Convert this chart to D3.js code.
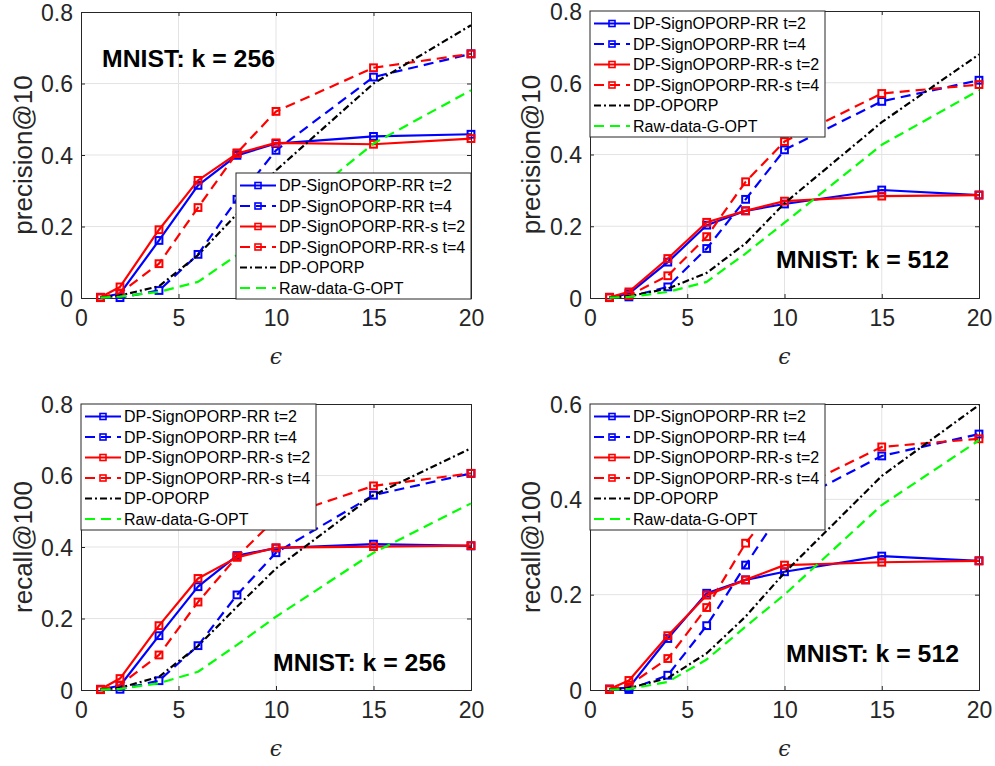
<!DOCTYPE html>
<html><head><meta charset="utf-8">
<script src="https://cdn.jsdelivr.net/npm/d3@7"></script>
<style>body{margin:0;background:#fff}svg{display:block}</style>
</head><body>
<script>
// ---------- data ----------
const epsilons = [1, 2, 4, 6, 8, 10, 15, 20];
const seriesNames = ["DP-SignOPORP-RR t=2", "DP-SignOPORP-RR t=4", "DP-SignOPORP-RR-s t=2", "DP-SignOPORP-RR-s t=4", "DP-OPORP", "Raw-data-G-OPT"];
const xTicks = [0, 5, 10, 15, 20];
const yTicksPrecision = [0, 0.2, 0.4, 0.6, 0.8];
const yTicksRecall512 = [0, 0.2, 0.4, 0.6];

// precision@10, k=256
const p256_rr2  = [0.002, 0.012, 0.161, 0.315, 0.399, 0.432, 0.452, 0.458];
const p256_rr4  = [0.001, 0.001, 0.021, 0.122, 0.276, 0.413, 0.618, 0.683];
const p256_rrs2 = [0.002, 0.031, 0.191, 0.329, 0.404, 0.434, 0.430, 0.446];
const p256_rrs4 = [0.001, 0.014, 0.096, 0.253, 0.406, 0.522, 0.644, 0.683];
const p256_op   = [0.001, 0.007, 0.033, 0.120, 0.235, 0.357, 0.600, 0.763];
const p256_raw  = [0.001, 0.004, 0.017, 0.045, 0.120, 0.210, 0.432, 0.581];
// precision@10, k=512
const p512_rr2  = [0.002, 0.012, 0.100, 0.203, 0.243, 0.262, 0.301, 0.287];
const p512_rr4  = [0.001, 0.003, 0.031, 0.138, 0.275, 0.413, 0.548, 0.607];
const p512_rrs2 = [0.002, 0.017, 0.110, 0.211, 0.243, 0.270, 0.284, 0.287];
const p512_rrs4 = [0.001, 0.007, 0.062, 0.171, 0.324, 0.436, 0.570, 0.595];
const p512_op   = [0.001, 0.005, 0.026, 0.070, 0.152, 0.264, 0.490, 0.679];
const p512_raw  = [0.001, 0.003, 0.017, 0.045, 0.124, 0.210, 0.427, 0.579];
// recall@100, k=256
const r256_rr2  = [0.002, 0.012, 0.152, 0.289, 0.376, 0.397, 0.408, 0.403];
const r256_rr4  = [0.001, 0.002, 0.026, 0.124, 0.266, 0.384, 0.545, 0.606];
const r256_rrs2 = [0.002, 0.032, 0.180, 0.312, 0.371, 0.398, 0.401, 0.404];
const r256_rrs4 = [0.001, 0.014, 0.098, 0.246, 0.373, 0.480, 0.571, 0.606];
const r256_op   = [0.001, 0.006, 0.037, 0.123, 0.233, 0.340, 0.545, 0.676];
const r256_raw  = [0.001, 0.003, 0.019, 0.051, 0.126, 0.205, 0.384, 0.522];
// recall@100, k=512
const r512_rr2  = [0.002, 0.005, 0.108, 0.203, 0.231, 0.248, 0.281, 0.271];
const r512_rr4  = [0.001, 0.001, 0.031, 0.135, 0.262, 0.385, 0.491, 0.537];
const r512_rrs2 = [0.002, 0.020, 0.114, 0.199, 0.231, 0.262, 0.268, 0.271];
const r512_rrs4 = [0.001, 0.010, 0.066, 0.173, 0.308, 0.410, 0.510, 0.527];
const r512_op   = [0.001, 0.004, 0.025, 0.077, 0.154, 0.246, 0.449, 0.598];
const r512_raw  = [0.001, 0.002, 0.017, 0.064, 0.133, 0.200, 0.388, 0.524];

// ---------- styles ----------
const styles = [
  {color: "#0000ff", dash: null, marker: true},
  {color: "#0000ff", dash: "10,6", marker: true},
  {color: "#ff0000", dash: null, marker: true},
  {color: "#ff0000", dash: "10,6", marker: true},
  {color: "#000000", dash: "7,3,2,3", marker: false},
  {color: "#00ff00", dash: "10,6", marker: false}
];

const panels = [
  {left: 81, right: 471, top: 12, bottom: 298, ymax: 0.8, yTicks: yTicksPrecision, ylabel: "precision@10",
   title: "MNIST: k = 256", tx: 21, ty: 55, legend: {x: 236, y: 173}, ylabX: 23,
   series: [p256_rr2, p256_rr4, p256_rrs2, p256_rrs4, p256_op, p256_raw]},
  {left: 590, right: 979, top: 11, bottom: 298, ymax: 0.8, yTicks: yTicksPrecision, ylabel: "precision@10",
   title: "MNIST: k = 512", tx: 186, ty: 257, legend: {x: 590, y: 11}, ylabX: 531,
   series: [p512_rr2, p512_rr4, p512_rrs2, p512_rrs4, p512_op, p512_raw]},
  {left: 81, right: 471, top: 404, bottom: 690, ymax: 0.8, yTicks: yTicksPrecision, ylabel: "recall@100",
   title: "MNIST: k = 256", tx: 192, ty: 267, legend: {x: 81, y: 404}, ylabX: 23,
   series: [r256_rr2, r256_rr4, r256_rrs2, r256_rrs4, r256_op, r256_raw]},
  {left: 590, right: 979, top: 404, bottom: 690, ymax: 0.6, yTicks: yTicksRecall512, ylabel: "recall@100",
   title: "MNIST: k = 512", tx: 196, ty: 258, legend: {x: 590, y: 404}, ylabX: 531,
   series: [r512_rr2, r512_rr4, r512_rrs2, r512_rrs4, r512_op, r512_raw]}
];

const W = 995, H = 766;
const FONT = "'Liberation Sans', Arial, Helvetica, sans-serif";
const axisColor = "#262626";
const svg = d3.select("body").append("svg").attr("width", W).attr("height", H)
  .style("font-family", FONT);

const fmtY = d => d === 0 ? "0" : d3.format(".1f")(d);

panels.forEach(p => {
  const x = d3.scaleLinear().domain([0, 20]).range([p.left, p.right]);
  const y = d3.scaleLinear().domain([0, p.ymax]).range([p.bottom, p.top]);
  const g = svg.append("g");

  // grid
  g.append("g").selectAll("line.gx").data(xTicks.slice(1, -1)).join("line")
    .attr("x1", d => x(d)).attr("x2", d => x(d)).attr("y1", p.top).attr("y2", p.bottom)
    .attr("stroke", "#e3e3e3").attr("stroke-width", 1);
  g.append("g").selectAll("line.gy").data(p.yTicks.slice(1, -1)).join("line")
    .attr("y1", d => y(d)).attr("y2", d => y(d)).attr("x1", p.left).attr("x2", p.right)
    .attr("stroke", "#e3e3e3").attr("stroke-width", 1);

  // axes via d3 axis (ticks inside)
  const xAxis = d3.axisBottom(x).tickValues(xTicks).tickSize(-4).tickPadding(12).tickFormat(d3.format("d"));
  const gx = g.append("g").attr("transform", `translate(0,${p.bottom})`).call(xAxis);
  const xAxisTop = d3.axisTop(x).tickValues(xTicks).tickSize(-4).tickFormat("");
  const gxt = g.append("g").attr("transform", `translate(0,${p.top})`).call(xAxisTop);
  const yAxis = d3.axisLeft(y).tickValues(p.yTicks).tickSize(-4).tickPadding(8).tickFormat(fmtY);
  const gy = g.append("g").attr("transform", `translate(${p.left},0)`).call(yAxis);
  const yAxisR = d3.axisRight(y).tickValues(p.yTicks).tickSize(-4).tickFormat("");
  const gyr = g.append("g").attr("transform", `translate(${p.right},0)`).call(yAxisR);
  [gx, gxt, gy, gyr].forEach(a => {
    a.select(".domain").attr("stroke", axisColor).attr("stroke-width", 1);
    a.selectAll(".tick line").attr("stroke", axisColor);
    a.selectAll(".tick text").attr("fill", axisColor).style("font-size", "23px").style("font-family", FONT);
  });
  gx.selectAll(".tick text").attr("dy", "0.71em");
  gy.selectAll(".tick text").attr("dy", "0.36em");

  // lines
  const line = d3.line().x((d, i) => x(epsilons[i])).y(d => y(d));
  p.series.forEach((vals, si) => {
    const s = styles[si];
    g.append("path").datum(vals).attr("d", line).attr("fill", "none")
      .attr("stroke", s.color).attr("stroke-width", 2.2)
      .attr("stroke-dasharray", s.dash).attr("stroke-linejoin", "round");
    if (s.marker) {
      g.append("g").selectAll("rect").data(vals).join("rect")
        .attr("x", (d, i) => x(epsilons[i]) - 3.4).attr("y", d => y(d) - 3.4)
        .attr("width", 6.8).attr("height", 6.8)
        .attr("fill", "none").attr("stroke", s.color).attr("stroke-width", 2);
    }
  });

  // title annotation
  g.append("text").attr("x", p.left + p.tx).attr("y", p.top + p.ty)
    .attr("font-weight", "bold").style("font-size", "24.8px").attr("fill", "#000").text(p.title);

  // axis labels
  g.append("text").attr("transform", `translate(${p.ylabX},${(p.top + p.bottom) / 2}) rotate(-90)`)
    .attr("text-anchor", "middle").attr("dy", "0.35em").style("font-size", "26px")
    .attr("fill", axisColor).text(p.ylabel);
  g.append("text").attr("x", (p.left + p.right) / 2).attr("y", p.bottom + 66)
    .attr("text-anchor", "middle").style("font-size", "22px").style("font-style", "italic")
    .attr("fill", axisColor).style("font-family", "'DejaVu Serif', serif").text("ϵ");

  // legend
  const L = p.legend, LW = 235, LH = 126, rowH = 20.5;
  const lg = g.append("g").attr("transform", `translate(${L.x},${L.y})`);
  lg.append("rect").attr("x", 0).attr("y", 0).attr("width", LW).attr("height", LH)
    .attr("fill", "#fff").attr("stroke", axisColor).attr("stroke-width", 1);
  seriesNames.forEach((name, si) => {
    const s = styles[si];
    const cy = 12.5 + si * rowH;
    lg.append("line").attr("x1", 4).attr("x2", 40).attr("y1", cy).attr("y2", cy)
      .attr("stroke", s.color).attr("stroke-width", 2.2).attr("stroke-dasharray", s.dash);
    if (s.marker) {
      lg.append("rect").attr("x", 22 - 3).attr("y", cy - 3).attr("width", 6).attr("height", 6)
        .attr("fill", "none").attr("stroke", s.color).attr("stroke-width", 1.6);
    }
    lg.append("text").attr("x", 43).attr("y", cy).attr("dy", "0.36em")
      .style("font-size", "16px").attr("fill", "#000").text(name);
  });
});
</script>
</body></html>
